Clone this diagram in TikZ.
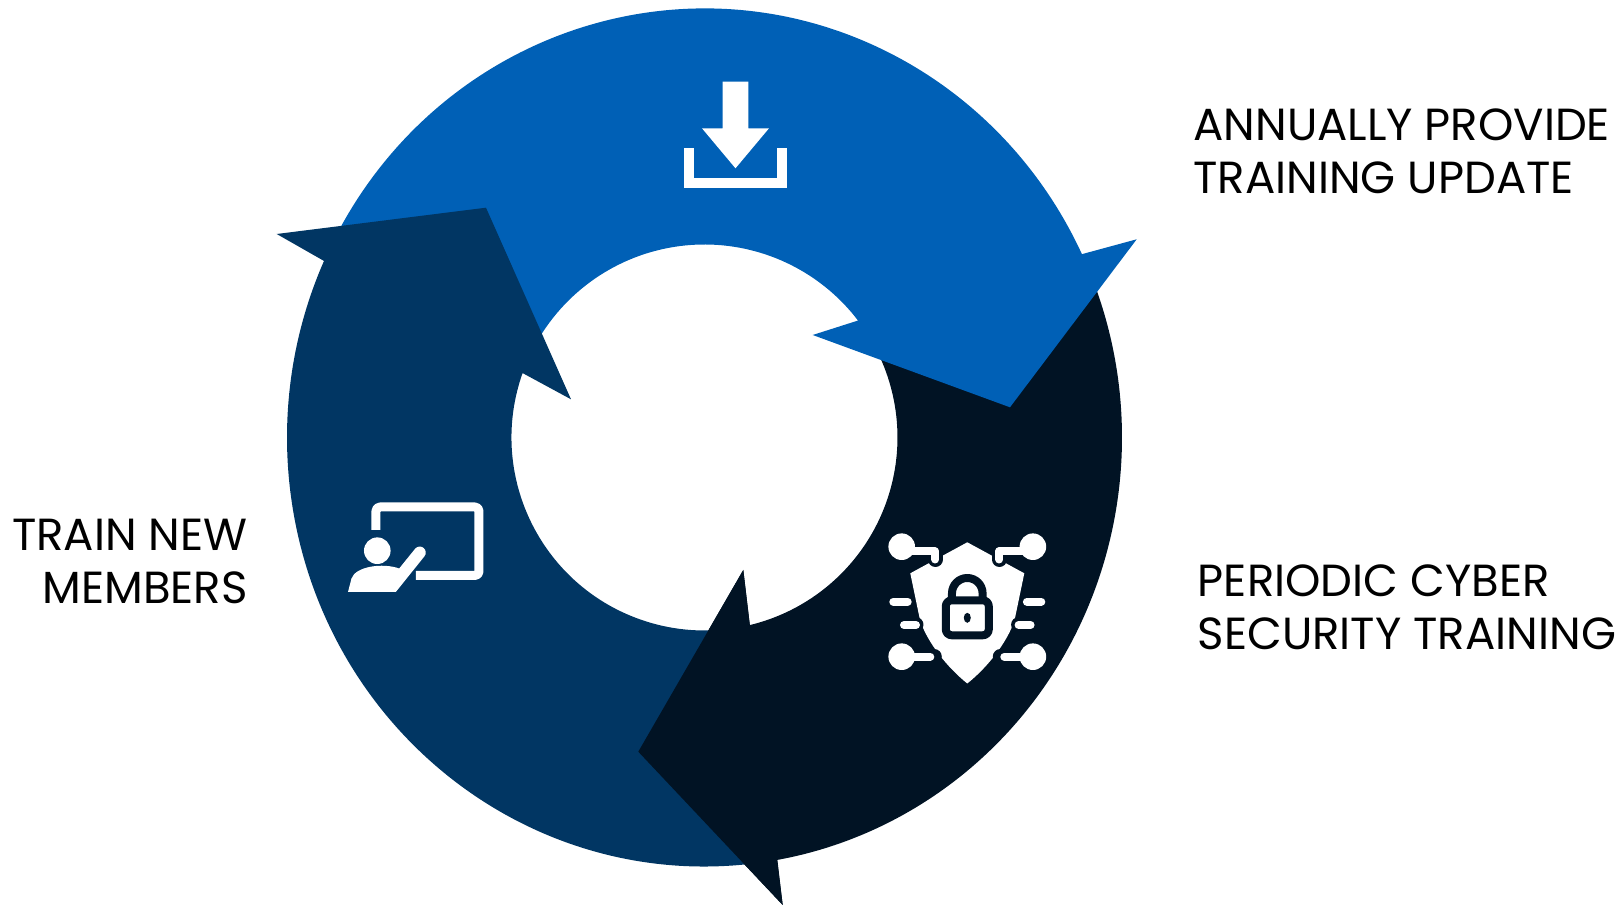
\documentclass[tikz,border=0pt]{standalone}
\usepackage{fontspec}
\setmainfont{Poppins}
\definecolor{cycblue}{RGB}{0,96,182}
\definecolor{cycnavy}{RGB}{1,54,99}
\definecolor{cycdark}{RGB}{1,19,36}
\begin{document}
\begin{tikzpicture}[x=0.5pt,y=0.5pt,line join=round,
  steplabel/.style={font=\fontsize{22.5}{26.5}\selectfont,inner sep=0pt},
  wire/.style={white,line width=4pt,line cap=round},
  halo/.style={cycdark,line width=7.5pt,line cap=round}]
\def\rx{417.5}
\def\ry{429}
\def\ri{193}
\useasboundingbox (-704.5,-470.5) rectangle (919.5,437.5);
\fill[cycdark] ({\rx*cos(23)},{\ry*sin(23)}) arc[start angle=23,end angle=-80,x radius=\rx,y radius=\ry] -- (78.2,-467.5) -- (-66.2,-314.2) -- (38.8,-132.5) -- (-76.4:\ri) arc[start angle=-76.4,end angle=30,radius=\ri] -- cycle;
\fill[cycblue] ({\rx*cos(153)},{\ry*sin(153)}) arc[start angle=153,end angle=25.3,x radius=\rx,y radius=\ry] -- (432.2,198.2) -- (305.5,30.2) -- (108.2,102.5) -- (37.3:\ri) arc[start angle=37.3,end angle=152,radius=\ri] -- cycle;
\fill[cycnavy] ({\rx*cos(-82.5)},{\ry*sin(-82.5)}) arc[start angle=-82.5,end angle=-204.3,x radius=\rx,y radius=\ry] -- (-427.8,203.5) -- (-218.5,229.8) -- (-133.5,38.2) -- (160.5:\ri) arc[start angle=160.5,end angle=278,radius=\ri] -- cycle;
\fill[cycdark] (78.2,-467.5) -- (-66.2,-314.2) -- (38.8,-132.5) -- cycle;
% download
\fill[white] (18.2,355.8) -- (43.8,355.8) -- (43.8,309.2) -- (64.5,309.2) -- (31,269.2) -- (-2.5,309.2) -- (18.2,309.2) -- cycle;
\draw[white,line width=5pt,line join=miter] (-15.2,289.2) -- (-15.2,254.2) -- (77.2,254.2) -- (77.2,289.2);
% teacher
\draw[white,line width=4.5pt,rounded corners=2pt] (-328.5,-92.5) -- (-328.5,-69.5) -- (-225.5,-69.5) -- (-225.5,-138) -- (-288.5,-138);
\fill[white] (-327.2,-113.2) circle[radius=13.3];
\fill[white] (-356.5,-154.5) -- (-353,-141) .. controls (-349,-129) and (-322,-125) .. (-305.3,-131) -- (-289.4,-111.3) arc[start angle=141,end angle=-39,radius=6] -- (-308.7,-154.5) -- cycle;
% shield
\begin{scope}[shift={(262.8,0)}]
\fill[white] (0,-104.8) -- (-57,-135.8) -- (-47.3,-182.5) .. controls (-40,-205) and (-20,-230) .. (0,-246) .. controls (20,-230) and (40,-205) .. (47.3,-182.5) -- (57,-135.8) -- cycle;
\foreach \s in {1,-1}{
\begin{scope}[xscale=\s]
\draw[halo] (-65.6,-114) -- (-32,-114) -- (-32,-122);
\draw[halo] (-74,-164.2) -- (-59.6,-164.2);
\draw[halo] (-63.3,-187.5) -- (-51.3,-187.5);
\draw[halo] (-65.6,-219.2) -- (-33,-219.2);
\draw[wire] (-65.6,-114) -- (-32,-114) -- (-32,-122);
\draw[wire] (-74,-164.2) -- (-59.6,-164.2);
\draw[wire] (-63.3,-187.5) -- (-51.3,-187.5);
\draw[wire] (-65.6,-219.2) -- (-37,-219.2);
\fill[white] (-65.6,-109.2) circle[radius=13.3] (-65.6,-219.2) circle[radius=13.3];
\end{scope}}
\draw[cycdark,line width=4pt,rounded corners=3pt] (-21.5,-162.8) rectangle (21.5,-197.8);
\draw[cycdark,line width=4pt] (-15.3,-162.8) -- (-15.3,-155.8) arc[start angle=180,end angle=0,radius=15.3] -- (15.3,-162.8);
\fill[cycdark] (0,-180.3) ellipse[x radius=3.5,y radius=5];
\end{scope}
\node[steplabel,anchor=base west,align=left] (lblupdate) at (488.5,244) {ANNUALLY PROVIDE\\TRAINING UPDATE};
\node[steplabel,anchor=base west,align=left] (lblcyber) at (493,-212.5) {PERIODIC CYBER\\SECURITY TRAINING};
\node[steplabel,anchor=base east,align=right] (lblmembers) at (-456.5,-166.5) {TRAIN NEW\\MEMBERS};
\end{tikzpicture}
\end{document}
